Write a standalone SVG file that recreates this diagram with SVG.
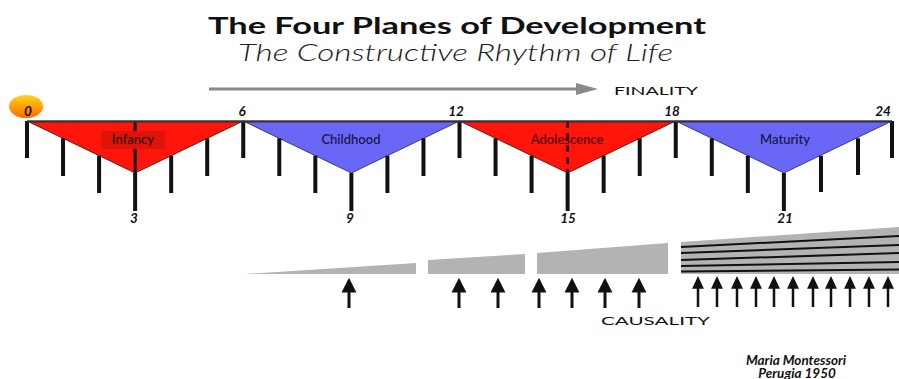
<svg xmlns="http://www.w3.org/2000/svg" width="899" height="379" viewBox="0 0 899 379">
<style>
text{font-family:Lato,"Liberation Sans","DejaVu Sans",sans-serif}
.title{font-size:23px;font-weight:bold;fill:#111}
.sub{font-size:23px;font-style:italic;font-weight:300;fill:#222}
.num{font-size:13.5px;font-style:italic;font-weight:bold;fill:#111;text-anchor:middle}
.lab{font-size:13px;font-weight:600;text-anchor:middle}
.cap{font-size:12px;fill:#111}
.tick{stroke:#111;stroke-width:4}
.red{fill:#ff1509;stroke:#3a0a0a;stroke-width:0.8}
.blue{fill:#6b67f6;stroke:#22224a;stroke-width:0.8}
.wedge{fill:#b3b3b3}
.stripe{stroke:#111;stroke-width:2}
.sig{font-size:13.5px;font-style:italic;font-weight:bold;fill:#111;text-anchor:middle}
</style>
<defs>
<linearGradient id="og" x1="0" y1="0" x2="0" y2="1">
<stop offset="0" stop-color="#ffd51c"/>
<stop offset="1" stop-color="#ff6a00"/>
</linearGradient>
<path id="arrBig" d="M0,27 V9 M-5,10 L0,0 L5,10 Z" stroke="#111" stroke-width="3" fill="#111"/>
<path id="arrSm" d="M0,28 V8 M-4,8.5 L0,0 L4,8.5 Z" stroke="#111" stroke-width="2.5" fill="#111"/>
</defs>
<rect width="899" height="379" fill="#fff"/>

<g id="title">
<text class="title" x="208" y="34" textLength="498" lengthAdjust="spacingAndGlyphs">The Four Planes of Development</text>
<text class="sub" x="238" y="61" textLength="435" lengthAdjust="spacingAndGlyphs">The Constructive Rhythm of Life</text>
</g>

<g id="finality">
<line x1="209" y1="89" x2="580" y2="89" stroke="#8a8a8a" stroke-width="3"/>
<polygon points="576,83 598,89 576,95" fill="#8a8a8a"/>
<text class="cap" x="614" y="95" textLength="84" lengthAdjust="spacingAndGlyphs">FINALITY</text>
</g>

<g id="infancy">
<polygon class="red" points="27,121 243.25,121 135.13,173"/>
<line x1="135.13" y1="121" x2="135.13" y2="173" stroke="#111" stroke-width="3"/>
<rect x="101" y="131" width="64" height="18" fill="#de140b"/>
<text class="lab" x="133" y="144" fill="#3a0c0c">Infancy</text>
</g>
<g id="childhood">
<polygon class="blue" points="243.25,121 459.5,121 351.38,173"/>
<text class="lab" x="351" y="144" fill="#1a1a50">Childhood</text>
</g>
<g id="adolescence">
<polygon class="red" points="459.5,121 675.75,121 567.63,173"/>
<line x1="567.63" y1="121" x2="567.63" y2="173" stroke="#111" stroke-width="2.5" stroke-dasharray="7,5"/>
<text class="lab" x="567" y="144" fill="#5a0606">Adolescence</text>
</g>
<g id="maturity">
<polygon class="blue" points="675.75,121 892,121 783.88,173"/>
<text class="lab" x="785" y="144" fill="#1a1a50">Maturity</text>
</g>

<g id="ticks">
<line class="tick" x1="27" y1="121" x2="27" y2="158"/>
<line class="tick" x1="63.04" y1="138.3" x2="63.04" y2="176"/>
<line class="tick" x1="99.08" y1="155.7" x2="99.08" y2="193"/>
<line class="tick" x1="135.13" y1="173" x2="135.13" y2="211"/>
<line class="tick" x1="171.17" y1="155.7" x2="171.17" y2="193"/>
<line class="tick" x1="207.21" y1="138.3" x2="207.21" y2="176"/>
<line class="tick" x1="243.25" y1="121" x2="243.25" y2="158"/>
<line class="tick" x1="279.29" y1="138.3" x2="279.29" y2="176"/>
<line class="tick" x1="315.33" y1="155.7" x2="315.33" y2="193"/>
<line class="tick" x1="351.38" y1="173" x2="351.38" y2="211"/>
<line class="tick" x1="387.42" y1="155.7" x2="387.42" y2="193"/>
<line class="tick" x1="423.46" y1="138.3" x2="423.46" y2="176"/>
<line class="tick" x1="459.5" y1="121" x2="459.5" y2="158"/>
<line class="tick" x1="495.54" y1="138.3" x2="495.54" y2="176"/>
<line class="tick" x1="531.58" y1="155.7" x2="531.58" y2="193"/>
<line class="tick" x1="567.63" y1="173" x2="567.63" y2="211"/>
<line class="tick" x1="603.67" y1="155.7" x2="603.67" y2="193"/>
<line class="tick" x1="639.71" y1="138.3" x2="639.71" y2="176"/>
<line class="tick" x1="675.75" y1="121" x2="675.75" y2="158"/>
<line class="tick" x1="711.79" y1="138.3" x2="711.79" y2="176"/>
<line class="tick" x1="747.83" y1="155.7" x2="747.83" y2="193"/>
<line class="tick" x1="783.88" y1="173" x2="783.88" y2="211"/>
<line class="tick" x1="821" y1="155.7" x2="821" y2="192"/>
<line class="tick" x1="858" y1="138.3" x2="858" y2="175"/>
<line class="tick" x1="892" y1="121" x2="892" y2="158"/>
<line x1="27" y1="121.5" x2="892" y2="121.5" stroke="#333" stroke-width="2"/>
</g>

<g id="ages">
<ellipse cx="26" cy="106.5" rx="17" ry="11.5" fill="url(#og)"/>
<text class="num" x="28" y="116">0</text>
<text class="num" x="242" y="116">6</text>
<text class="num" x="456" y="116">12</text>
<text class="num" x="672" y="116">18</text>
<text class="num" x="883" y="116">24</text>
<text class="num" x="134" y="223">3</text>
<text class="num" x="350" y="223">9</text>
<text class="num" x="568" y="223">15</text>
<text class="num" x="785" y="223">21</text>
</g>

<g id="wedges">
<polygon class="wedge" points="245,274 416,263 416,274"/>
<polygon class="wedge" points="428,260 525,254 525,274 428,274"/>
<polygon class="wedge" points="537,253 668,243 668,274 537,274"/>
<polygon class="wedge" points="681,242 899,227 899,274 681,274"/>
<line class="stripe" x1="681" y1="247" x2="899" y2="236"/>
<line class="stripe" x1="681" y1="253" x2="899" y2="245"/>
<line class="stripe" x1="681" y1="260" x2="899" y2="253"/>
<line class="stripe" x1="681" y1="266" x2="899" y2="262"/>
<line class="stripe" x1="681" y1="271.5" x2="899" y2="269.5"/>
</g>

<g id="connectors">
<use href="#arrBig" x="349" y="281"/>
<use href="#arrBig" x="459" y="281"/>
<use href="#arrBig" x="498" y="281"/>
<use href="#arrBig" x="539" y="281"/>
<use href="#arrBig" x="572" y="281"/>
<use href="#arrBig" x="605" y="281"/>
<use href="#arrBig" x="639" y="281"/>
<use href="#arrSm" x="698" y="279"/>
<use href="#arrSm" x="717" y="279"/>
<use href="#arrSm" x="737" y="279"/>
<use href="#arrSm" x="756" y="279"/>
<use href="#arrSm" x="774" y="279"/>
<use href="#arrSm" x="793" y="279"/>
<use href="#arrSm" x="813" y="279"/>
<use href="#arrSm" x="831" y="279"/>
<use href="#arrSm" x="850" y="279"/>
<use href="#arrSm" x="869" y="279"/>
<use href="#arrSm" x="888" y="279"/>
</g>

<g id="causality">
<text class="cap" x="601" y="325" textLength="109" lengthAdjust="spacingAndGlyphs">CAUSALITY</text>
</g>

<g id="signature">
<text class="sig" x="796" y="365">Maria Montessori</text>
<text class="sig" x="797" y="378">Perugia 1950</text>
</g>
</svg>
